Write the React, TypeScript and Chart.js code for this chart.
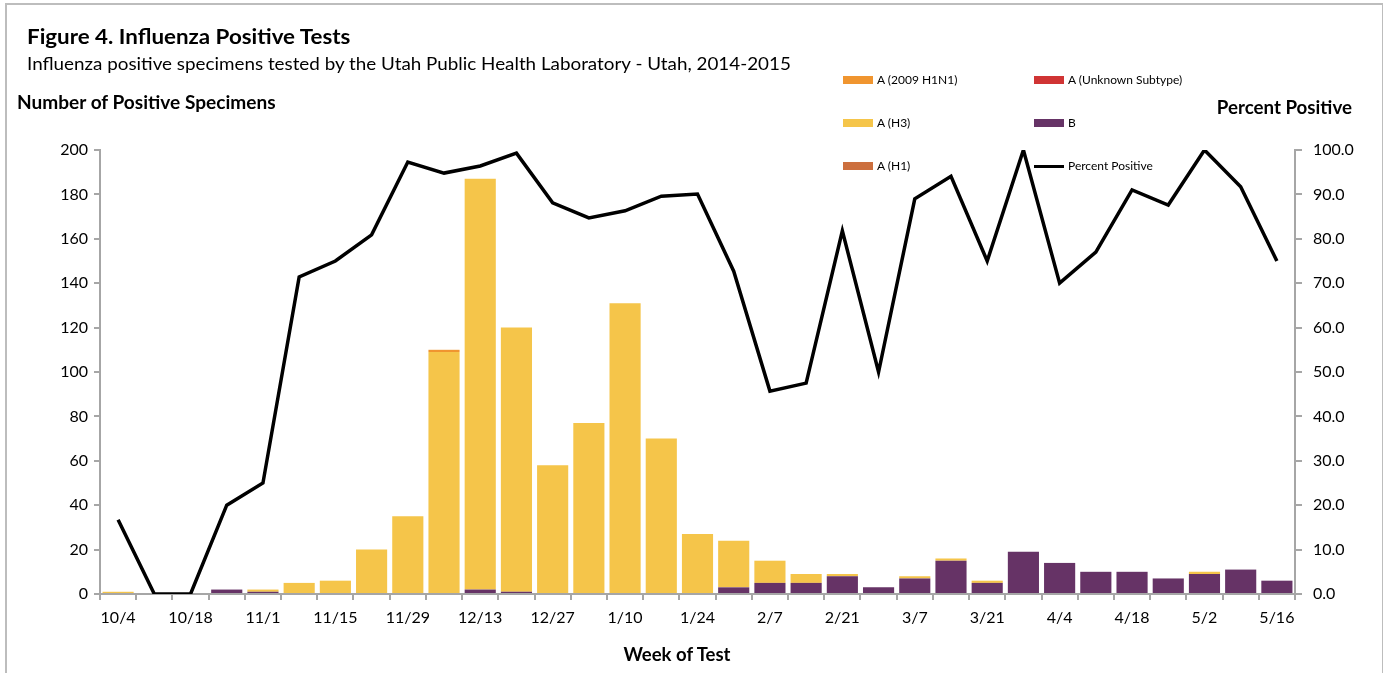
import React, { useEffect, useRef } from 'react';
import { Chart, registerables } from 'chart.js';
Chart.register(...registerables);

const weeks = ['10/4','10/11','10/18','10/25','11/1','11/8','11/15','11/22','11/29','12/6','12/13','12/20','12/27','1/3','1/10','1/17','1/24','1/31','2/7','2/14','2/21','2/28','3/7','3/14','3/21','3/28','4/4','4/11','4/18','4/25','5/2','5/9','5/16'];

const bValues = [0,0,0,2,1,0,0,0,0,0,2,1,0,0,0,0,0,3,5,5,8,3,7,15,5,19,14,10,10,7,9,11,6];
const h3Values = [1,0,0,0,1,5,6,20,35,109,185,119,58,77,131,70,27,21,10,4,1,0,1,1,1,0,0,0,0,0,1,0,0];
const h1n1Values = [0,0,0,0,0,0,0,0,0,1,0,0,0,0,0,0,0,0,0,0,0,0,0,0,0,0,0,0,0,0,0,0,0];
const h1Values = [0,0,0,0,0,0,0,0,0,0,0,0,0,0,0,0,0,0,0,0,0,0,0,0,0,0,0,0,0,0,0,0,0];
const unknownValues = [0,0,0,0,0,0,0,0,0,0,0,0,0,0,0,0,0,0,0,0,0,0,0,0,0,0,0,0,0,0,0,0,0];
const percentPositive = [16.7,0,0,20,25,71.4,75,80.9,97.3,94.8,96.4,99.3,88.1,84.7,86.3,89.6,90.1,72.7,45.7,47.5,81.8,50,89,94.1,75,100,70,77,91,87.6,100,91.7,75];

const COLORS = {
  h1n1: '#f0952f',
  unknown: '#d03434',
  h3: '#f5c54a',
  b: '#663366',
  h1: '#cc6f3e',
  line: '#000000',
};

const FONT = 'Lato, "Open Sans", sans-serif';

export default function App() {
  const ref = useRef<HTMLCanvasElement | null>(null);

  useEffect(() => {
    if (!ref.current) return;
    const chart = new Chart(ref.current, {
      type: 'bar',
      data: {
        labels: weeks,
        datasets: [
          { type: 'line', label: 'Percent Positive', data: percentPositive, yAxisID: 'y1', borderColor: COLORS.line, backgroundColor: COLORS.line, borderWidth: 3.5, pointRadius: 0, tension: 0, order: 0 } as any,
          { label: 'B', data: bValues, backgroundColor: COLORS.b, yAxisID: 'y', stack: 'flu', order: 1 },
          { label: 'A (H3)', data: h3Values, backgroundColor: COLORS.h3, yAxisID: 'y', stack: 'flu', order: 1 },
          { label: 'A (2009 H1N1)', data: h1n1Values, backgroundColor: COLORS.h1n1, yAxisID: 'y', stack: 'flu', order: 1 },
          { label: 'A (H1)', data: h1Values, backgroundColor: COLORS.h1, yAxisID: 'y', stack: 'flu', order: 1 },
          { label: 'A (Unknown Subtype)', data: unknownValues, backgroundColor: COLORS.unknown, yAxisID: 'y', stack: 'flu', order: 1 },
        ],
      },
      options: {
        responsive: false,
        animation: false,
        datasets: { bar: { barPercentage: 0.86, categoryPercentage: 1 } },
        layout: { padding: { top: 150, left: 0, right: 0, bottom: 0 } },
        plugins: { legend: { display: false }, tooltip: { enabled: false }, title: { display: false } },
        scales: {
          x: {
            stacked: true,
            offset: true,
            grid: { offset: true, drawOnChartArea: false, drawTicks: true, tickLength: 6, color: '#a6a6a6', lineWidth: 2 },
            border: { color: '#a6a6a6', width: 2 },
            ticks: {
              autoSkip: false, maxRotation: 0, minRotation: 0, padding: 8, color: '#000',
              font: { family: FONT, size: 16 },
              callback: (_v: any, i: number) => (i % 2 === 0 ? weeks[i] : ''),
            },
            afterFit: (s: any) => { s.height = 79; },
          },
          y: {
            position: 'left',
            stacked: true,
            min: 0, max: 200,
            grid: { drawOnChartArea: false, drawTicks: true, tickLength: 6, color: '#a6a6a6', lineWidth: 2 },
            border: { color: '#a6a6a6', width: 2 },
            ticks: { stepSize: 20, padding: 6, color: '#000', font: { family: FONT, size: 16 } },
            afterFit: (s: any) => { s.width = 100; },
          },
          y1: {
            position: 'right',
            min: 0, max: 100,
            grid: { drawOnChartArea: false, drawTicks: true, tickLength: 7, color: '#a6a6a6', lineWidth: 2 },
            border: { color: '#a6a6a6', width: 2 },
            ticks: { stepSize: 10, padding: 11, color: '#000', font: { family: FONT, size: 16 }, callback: (v: any) => Number(v).toFixed(1) },
            afterFit: (s: any) => { s.width = 88; },
          },
        },
      },
    });
    return () => chart.destroy();
  }, []);

  const txt = (extra: React.CSSProperties, sx = 1, origin = 'left center'): React.CSSProperties => ({
    position: 'absolute', lineHeight: 1, whiteSpace: 'nowrap',
    transform: `translateY(-50%) scaleX(${sx})`, transformOrigin: origin,
    fontFamily: FONT, color: '#000', ...extra,
  });

  const legendItems = [
    { label: 'A (2009 H1N1)', color: COLORS.h1n1, col: 0, row: 0, line: false },
    { label: 'A (H3)', color: COLORS.h3, col: 0, row: 1, line: false },
    { label: 'A (H1)', color: COLORS.h1, col: 0, row: 2, line: false },
    { label: 'A (Unknown Subtype)', color: COLORS.unknown, col: 1, row: 0, line: false },
    { label: 'B', color: COLORS.b, col: 1, row: 1, line: false },
    { label: 'Percent Positive', color: COLORS.line, col: 1, row: 2, line: true },
  ];
  const colX = [843, 1034];
  const rowY = [80, 123, 166];

  return (
    <div style={{ position: 'fixed', left: 0, top: 0, width: 1383, height: 673, background: '#fff', overflow: 'hidden' }}>
      <div style={{ position: 'absolute', left: 5, top: 3, width: 1375, height: 700, border: '2px solid #bdbdbd' }} />
      <canvas ref={ref} width={1383} height={673} style={{ position: 'absolute', left: 0, top: 0, width: 1383, height: 673 }} />
      <div style={txt({ left: 27, top: 37, fontSize: 21.5, fontWeight: 'bold' }, 1.04)}>Figure 4. Influenza Positive Tests</div>
      <div style={txt({ left: 27, top: 63, fontSize: 17 }, 1.107)}>Influenza positive specimens tested by the Utah Public Health Laboratory - Utah, 2014-2015</div>
      <div style={txt({ left: 17, top: 102, fontSize: 18, fontWeight: 'bold' }, 1.06)}>Number of Positive Specimens</div>
      <div style={txt({ right: 31, top: 107, fontSize: 18, fontWeight: 'bold' }, 1.04, 'right center')}>Percent Positive</div>
      <div style={txt({ left: 577, width: 200, textAlign: 'center', top: 654, fontSize: 18, fontWeight: 'bold' }, 1.03, 'center center')}>Week of Test</div>
      {legendItems.map((it) => (
        <React.Fragment key={it.label}>
          <div style={{ position: 'absolute', left: colX[it.col], top: rowY[it.row] - (it.line ? 1.5 : 4), width: 30, height: it.line ? 3 : 8, background: it.color }} />
          <div style={txt({ left: colX[it.col] + 34, top: rowY[it.row], fontSize: 12 })}>{it.label}</div>
        </React.Fragment>
      ))}
    </div>
  );
}
